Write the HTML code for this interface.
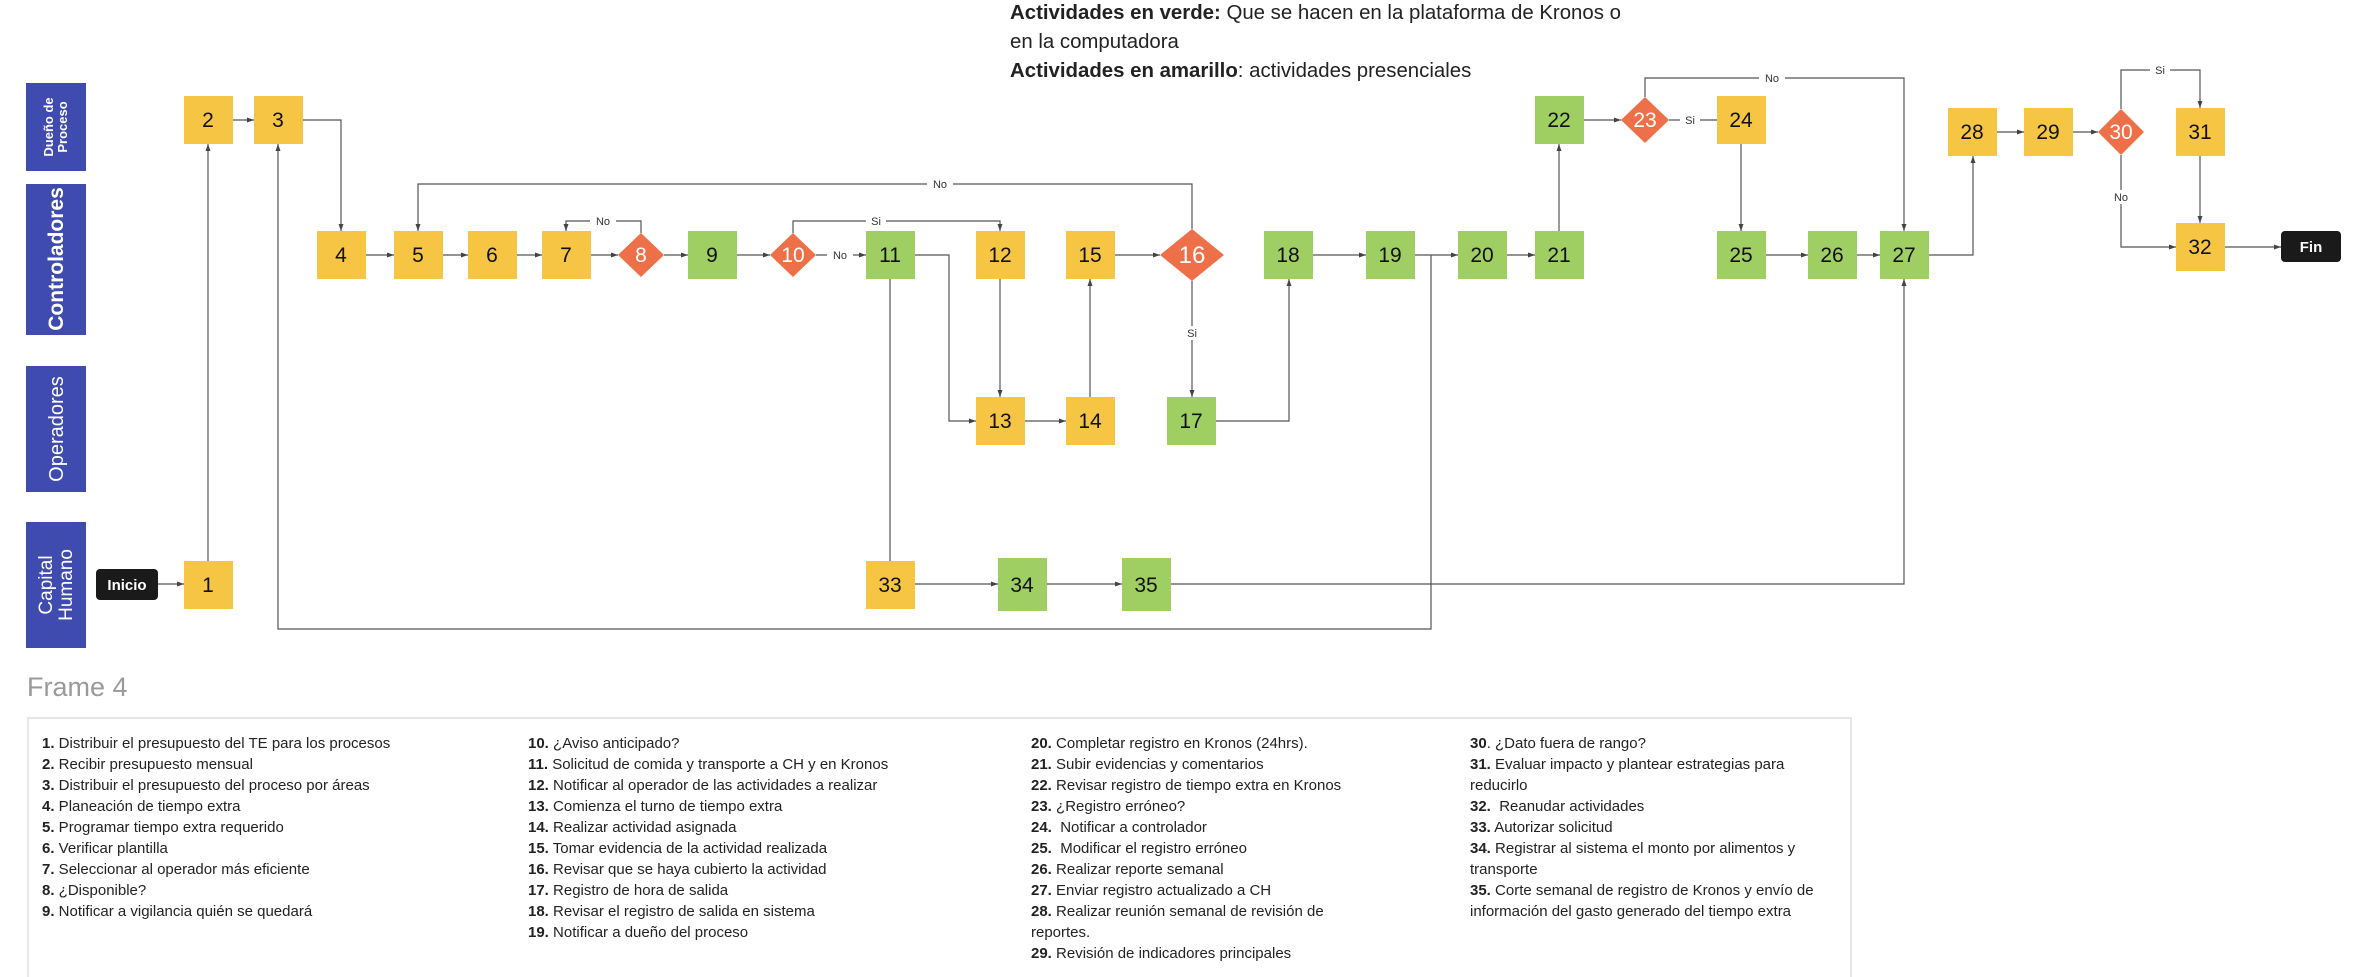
<!DOCTYPE html>
<html><head><meta charset="utf-8"><style>
html,body{margin:0;padding:0;background:#fff;}
body{width:2364px;height:968px;position:relative;overflow:hidden;font-family:"Liberation Sans",sans-serif;}
.legend{position:absolute;left:1010px;top:-1px;font-size:20.4px;line-height:29px;color:#222;}
.frame{position:absolute;left:27px;top:672px;font-size:27px;color:#9a9a9a;}
.box{position:absolute;left:27px;top:717px;width:1825px;height:260px;border:2px solid #e6e6e6;border-bottom:none;box-sizing:border-box;}
.col{position:absolute;top:733px;font-size:15px;line-height:21px;color:#222;white-space:nowrap;}
</style></head><body>
<svg width="2364" height="968" style="position:absolute;left:0;top:0" xmlns="http://www.w3.org/2000/svg">
<defs><marker id="a" markerWidth="8" markerHeight="8" refX="7" refY="4" orient="auto" markerUnits="userSpaceOnUse"><path d="M0,1.5 L7,4 L0,6.5 z" fill="#444"/></marker></defs>
<g fill="#3F4BAF">
<rect x="26" y="83" width="60" height="88"/><rect x="26" y="184" width="60" height="151"/><rect x="26" y="366" width="60" height="126"/><rect x="26" y="522" width="60" height="126"/>
</g>
<g fill="#fff" font-weight="bold" text-anchor="middle">
<text transform="translate(56,127) rotate(-90)" font-size="13"><tspan x="0" y="-3">Dueño de</tspan><tspan x="0" y="11">Proceso</tspan></text>
<text transform="translate(63,259) rotate(-90)" font-size="21">Controladores</text>
<text transform="translate(63,429) rotate(-90)" font-size="20" font-weight="normal">Operadores</text>
<text transform="translate(56,585) rotate(-90)" font-size="19" font-weight="normal"><tspan x="0" y="-4">Capital</tspan><tspan x="0" y="16">Humano</tspan></text>
</g>
<g stroke="#555" stroke-width="1.2" fill="none">
<path d="M158,584 H184" marker-end="url(#a)"/>
<path d="M208,561 V144" marker-end="url(#a)"/>
<path d="M233,120 H254" marker-end="url(#a)"/>
<path d="M303,120 H341 V231" marker-end="url(#a)"/>
<path d="M366,255 H394" marker-end="url(#a)"/>
<path d="M443,255 H468" marker-end="url(#a)"/>
<path d="M517,255 H542" marker-end="url(#a)"/>
<path d="M591,255 H618" marker-end="url(#a)"/>
<path d="M664,255 H688" marker-end="url(#a)"/>
<path d="M737,255 H770" marker-end="url(#a)"/>
<path d="M816,255 H866" marker-end="url(#a)"/>
<path d="M641,233 V221 H566 V231" marker-end="url(#a)"/>
<path d="M793,233 V221 H1000 V231" marker-end="url(#a)"/>
<path d="M1192,229 V184 H418 V231" marker-end="url(#a)"/>
<path d="M915,255 H949 V421 H976" marker-end="url(#a)"/>
<path d="M1000,279 V397" marker-end="url(#a)"/>
<path d="M1025,421 H1066" marker-end="url(#a)"/>
<path d="M1090,397 V279" marker-end="url(#a)"/>
<path d="M1115,255 H1160" marker-end="url(#a)"/>
<path d="M1192,281 V397" marker-end="url(#a)"/>
<path d="M1216,421 H1289 V279" marker-end="url(#a)"/>
<path d="M1313,255 H1366" marker-end="url(#a)"/>
<path d="M1415,255 H1458" marker-end="url(#a)"/>
<path d="M1507,255 H1535" marker-end="url(#a)"/>
<path d="M1431,255 V629 H278 V144" marker-end="url(#a)"/>
<path d="M890,279 V561"/>
<path d="M915,584 H998" marker-end="url(#a)"/>
<path d="M1047,584 H1122" marker-end="url(#a)"/>
<path d="M1171,584 H1904 V279" marker-end="url(#a)"/>
<path d="M1559,231 V144" marker-end="url(#a)"/>
<path d="M1584,120 H1621" marker-end="url(#a)"/>
<path d="M1669,120 H1717"/>
<path d="M1645,97 V78 H1904 V231" marker-end="url(#a)"/>
<path d="M1741,144 V231" marker-end="url(#a)"/>
<path d="M1766,255 H1808" marker-end="url(#a)"/>
<path d="M1857,255 H1880" marker-end="url(#a)"/>
<path d="M1929,255 H1973 V156" marker-end="url(#a)"/>
<path d="M1997,132 H2024" marker-end="url(#a)"/>
<path d="M2073,132 H2098" marker-end="url(#a)"/>
<path d="M2121,109 V70 H2200 V108" marker-end="url(#a)"/>
<path d="M2121,155 V247 H2176" marker-end="url(#a)"/>
<path d="M2200,156 V223" marker-end="url(#a)"/>
<path d="M2225,247 H2281" marker-end="url(#a)"/>
</g>
<g font-size="11" fill="#333" text-anchor="middle">
<rect x="590" y="214" width="26" height="14" fill="#fff"/><text x="603" y="225">No</text>
<rect x="866" y="214" width="20" height="14" fill="#fff"/><text x="876" y="225">Si</text>
<rect x="927" y="177" width="26" height="14" fill="#fff"/><text x="940" y="188">No</text>
<rect x="827" y="248" width="26" height="14" fill="#fff"/><text x="840" y="259">No</text>
<rect x="1182" y="326" width="20" height="14" fill="#fff"/><text x="1192" y="337">Si</text>
<rect x="1680" y="113" width="20" height="14" fill="#fff"/><text x="1690" y="124">Si</text>
<rect x="1759" y="71" width="26" height="14" fill="#fff"/><text x="1772" y="82">No</text>
<rect x="2150" y="63" width="20" height="14" fill="#fff"/><text x="2160" y="74">Si</text>
<rect x="2108" y="190" width="26" height="14" fill="#fff"/><text x="2121" y="201">No</text>
</g>
<rect x="96" y="569" width="62" height="31" rx="4" fill="#1a1a1a"/>
<text x="127" y="590" fill="#fff" font-size="15" font-weight="bold" text-anchor="middle">Inicio</text>
<rect x="2281" y="231" width="60" height="31" rx="4" fill="#1a1a1a"/>
<text x="2311" y="252" fill="#fff" font-size="15" font-weight="bold" text-anchor="middle">Fin</text>
<g font-size="21" text-anchor="middle" fill="#111">
<g fill="#F7C544">
<rect x="184" y="96" width="49" height="48"/><rect x="254" y="96" width="49" height="48"/>
<rect x="317" y="231" width="49" height="48"/><rect x="394" y="231" width="49" height="48"/><rect x="468" y="231" width="49" height="48"/><rect x="542" y="231" width="49" height="48"/>
<rect x="976" y="231" width="49" height="48"/><rect x="1066" y="231" width="49" height="48"/>
<rect x="1717" y="96" width="49" height="48"/>
<rect x="1948" y="108" width="49" height="48"/><rect x="2024" y="108" width="49" height="48"/><rect x="2176" y="108" width="49" height="48"/><rect x="2176" y="223" width="49" height="48"/>
<rect x="976" y="397" width="49" height="48"/><rect x="1066" y="397" width="49" height="48"/>
<rect x="184" y="561" width="49" height="48"/><rect x="866" y="561" width="49" height="48"/>
</g>
<g fill="#9FCF62">
<rect x="688" y="231" width="49" height="48"/><rect x="866" y="231" width="49" height="48"/>
<rect x="1264" y="231" width="49" height="48"/><rect x="1366" y="231" width="49" height="48"/><rect x="1458" y="231" width="49" height="48"/><rect x="1535" y="231" width="49" height="48"/>
<rect x="1717" y="231" width="49" height="48"/><rect x="1808" y="231" width="49" height="48"/><rect x="1880" y="231" width="49" height="48"/>
<rect x="1535" y="96" width="49" height="48"/>
<rect x="1167" y="397" width="49" height="48"/>
<rect x="998" y="558" width="49" height="53"/><rect x="1122" y="558" width="49" height="53"/>
</g>
<g fill="#EE7048">
<path d="M641,233 L664,255 L641,277 L618,255 z"/>
<path d="M793,233 L816,255 L793,277 L770,255 z"/>
<path d="M1192,229 L1224,255 L1192,281 L1160,255 z"/>
<path d="M1645,97 L1669,120 L1645,143 L1621,120 z"/>
<path d="M2121,109 L2144,132 L2121,155 L2098,132 z"/>
</g>
<text x="208" y="127">2</text><text x="278" y="127">3</text>
<text x="341" y="262">4</text><text x="418" y="262">5</text><text x="492" y="262">6</text><text x="566" y="262">7</text>
<text x="712" y="262">9</text><text x="890" y="262">11</text><text x="1000" y="262">12</text><text x="1090" y="262">15</text>
<text x="1288" y="262">18</text><text x="1390" y="262">19</text><text x="1482" y="262">20</text><text x="1559" y="262">21</text>
<text x="1741" y="262">25</text><text x="1832" y="262">26</text><text x="1904" y="262">27</text>
<text x="1559" y="127">22</text><text x="1741" y="127">24</text>
<text x="1972" y="139">28</text><text x="2048" y="139">29</text><text x="2200" y="139">31</text><text x="2200" y="254">32</text>
<text x="1000" y="428">13</text><text x="1090" y="428">14</text><text x="1191" y="428">17</text>
<text x="208" y="592">1</text><text x="890" y="592">33</text><text x="1022" y="592">34</text><text x="1146" y="592">35</text>
<g fill="#fff"><text x="641" y="262">8</text><text x="793" y="262">10</text><text x="1192" y="263" font-size="24">16</text><text x="1645" y="127">23</text><text x="2121" y="139">30</text></g>
</g>
</svg>
<div class="legend"><b>Actividades en verde:</b> Que se hacen en la plataforma de Kronos o<br>en la computadora<br><b>Actividades en amarillo</b>: actividades presenciales</div>
<div class="frame">Frame 4</div>
<div class="box"></div>
<div class="col" style="left:42px"><b>1.</b> Distribuir el presupuesto del TE para los procesos<br><b>2.</b> Recibir presupuesto mensual<br><b>3.</b> Distribuir el presupuesto del proceso por áreas<br><b>4.</b> Planeación de tiempo extra<br><b>5.</b> Programar tiempo extra requerido<br><b>6.</b> Verificar plantilla<br><b>7.</b> Seleccionar al operador más eficiente<br><b>8.</b> ¿Disponible?<br><b>9.</b> Notificar a vigilancia quién se quedará</div>
<div class="col" style="left:528px"><b>10.</b> ¿Aviso anticipado?<br><b>11.</b> Solicitud de comida y transporte a CH y en Kronos<br><b>12.</b> Notificar al operador de las actividades a realizar<br><b>13.</b> Comienza el turno de tiempo extra<br><b>14.</b> Realizar actividad asignada<br><b>15.</b> Tomar evidencia de la actividad realizada<br><b>16.</b> Revisar que se haya cubierto la actividad<br><b>17.</b> Registro de hora de salida<br><b>18.</b> Revisar el registro de salida en sistema<br><b>19.</b> Notificar a dueño del proceso</div>
<div class="col" style="left:1031px"><b>20.</b> Completar registro en Kronos (24hrs).<br><b>21.</b> Subir evidencias y comentarios<br><b>22.</b> Revisar registro de tiempo extra en Kronos<br><b>23.</b> ¿Registro erróneo?<br><b>24.</b>&nbsp; Notificar a controlador<br><b>25.</b>&nbsp; Modificar el registro erróneo<br><b>26.</b> Realizar reporte semanal<br><b>27.</b> Enviar registro actualizado a CH<br><b>28.</b> Realizar reunión semanal de revisión de<br>reportes.<br><b>29.</b> Revisión de indicadores principales</div>
<div class="col" style="left:1470px"><b>30</b>. ¿Dato fuera de rango?<br><b>31.</b> Evaluar impacto y plantear estrategias para<br>reducirlo<br><b>32.</b>&nbsp; Reanudar actividades<br><b>33.</b> Autorizar solicitud<br><b>34.</b> Registrar al sistema el monto por alimentos y<br>transporte<br><b>35.</b> Corte semanal de registro de Kronos y envío de<br>información del gasto generado del tiempo extra</div>
</body></html>
